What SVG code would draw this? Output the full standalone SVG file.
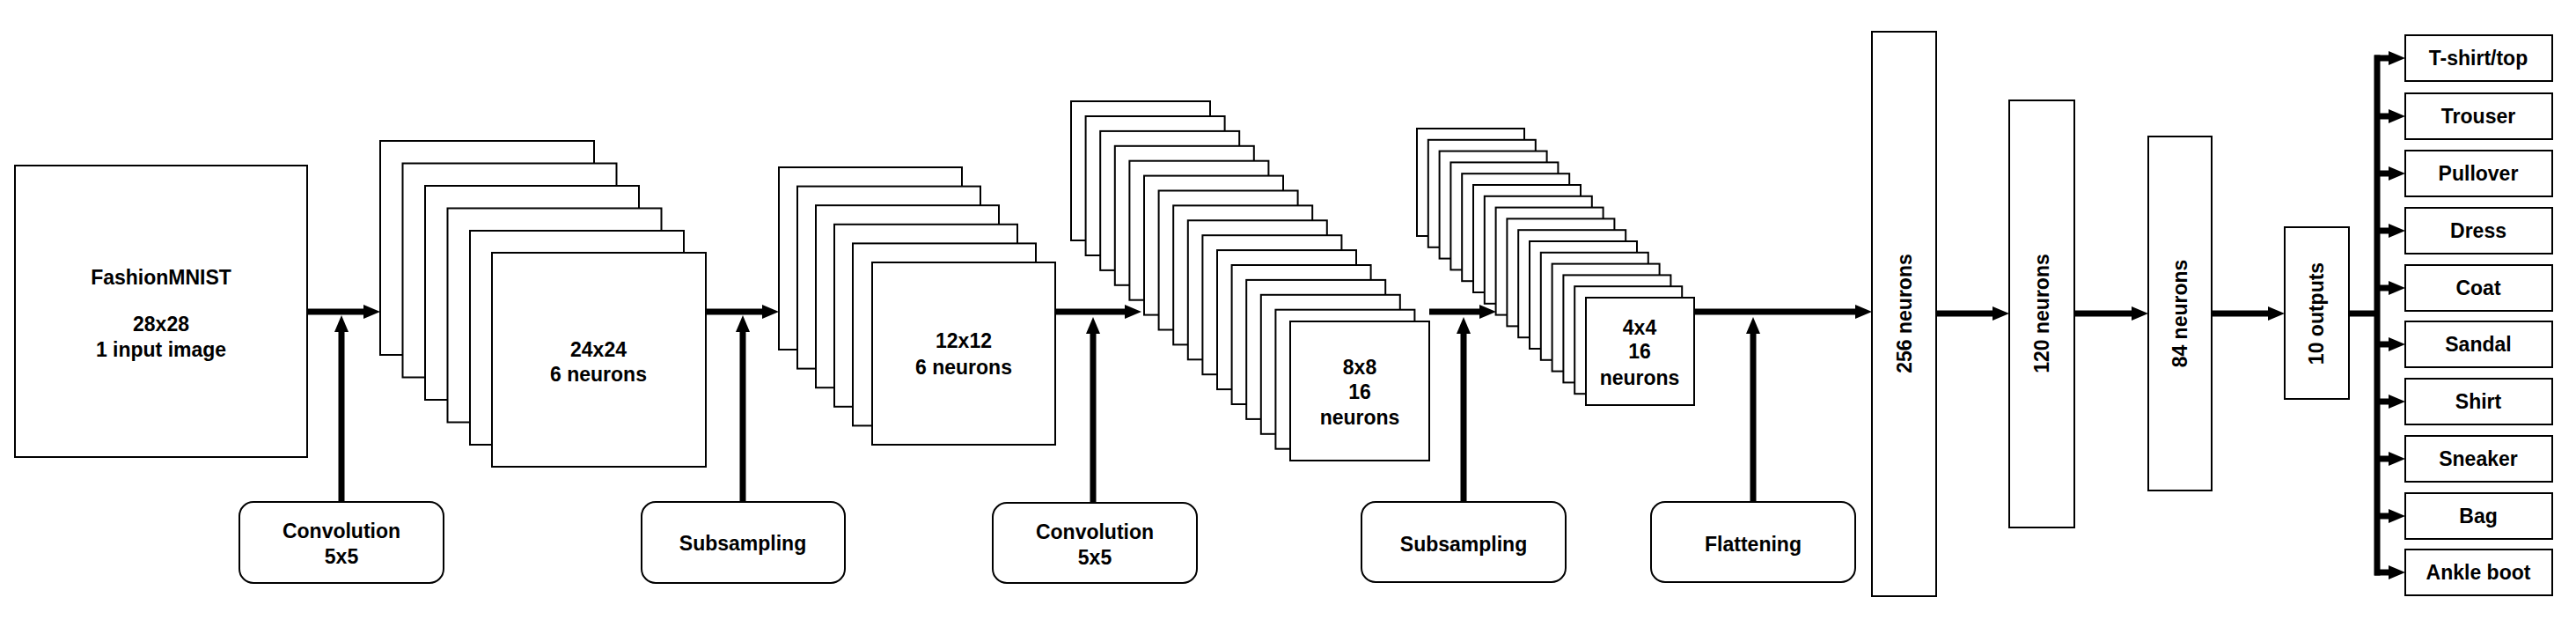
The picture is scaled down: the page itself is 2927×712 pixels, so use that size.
<svg xmlns="http://www.w3.org/2000/svg" width="2927" height="712" viewBox="0 0 2927 712">
<style>
.b{fill:#fff;stroke:#000;stroke-width:2}
.t{font-family:"Liberation Sans",Arial,sans-serif;font-weight:bold;font-size:23px;text-anchor:middle;dominant-baseline:central;fill:#000}
.c{fill:none;stroke:#000;stroke-width:7}
</style>
<defs>
<marker id="ah" markerUnits="userSpaceOnUse" markerWidth="19" markerHeight="16" refX="0" refY="8" orient="auto" viewBox="0 0 19 16"><path d="M0,0 L19,8 L0,16 z" fill="#000"/></marker>
</defs>
<g id="input"><rect class="b" x="17" y="188" width="332" height="331"/>
<text class="t" x="183" y="315">FashionMNIST</text><text class="t" x="183" y="368">28x28</text><text class="t" x="183" y="397">1 input image</text></g>
<g id="c1">
<rect class="b" x="432" y="160" width="243" height="243"/><rect class="b" x="457.5" y="185.5" width="243" height="243"/><rect class="b" x="483" y="211" width="243" height="243"/><rect class="b" x="508.5" y="236.5" width="243" height="243"/><rect class="b" x="534" y="262" width="243" height="243"/><rect class="b" x="559" y="287" width="243" height="243"/>
<text class="t" x="680" y="397">24x24</text><text class="t" x="680" y="425">6 neurons</text></g>
<g id="s1">
<rect class="b" x="885" y="190" width="208" height="207"/><rect class="b" x="906" y="211.6" width="208" height="207"/><rect class="b" x="927" y="233.2" width="208" height="207"/><rect class="b" x="948" y="254.8" width="208" height="207"/><rect class="b" x="969" y="276.4" width="208" height="207"/><rect class="b" x="991" y="298" width="208" height="207"/>
<text class="t" x="1095" y="387">12x12</text><text class="t" x="1095" y="417">6 neurons</text></g>
<g id="c2">
<rect class="b" x="1217" y="115" width="158" height="158"/><rect class="b" x="1233.6" y="132" width="158" height="158"/><rect class="b" x="1250.2" y="148.9" width="158" height="158"/><rect class="b" x="1266.8" y="165.8" width="158" height="158"/><rect class="b" x="1283.4" y="182.7" width="158" height="158"/><rect class="b" x="1300" y="199.6" width="158" height="158"/><rect class="b" x="1316.6" y="216.5" width="158" height="158"/><rect class="b" x="1333.2" y="233.4" width="158" height="158"/><rect class="b" x="1349.8" y="250.3" width="158" height="158"/><rect class="b" x="1366.4" y="267.2" width="158" height="158"/><rect class="b" x="1383" y="284.1" width="158" height="158"/><rect class="b" x="1399.6" y="301" width="158" height="158"/><rect class="b" x="1416.2" y="317.9" width="158" height="158"/><rect class="b" x="1432.8" y="334.8" width="158" height="158"/><rect class="b" x="1449.4" y="351.7" width="158" height="158"/><rect class="b" x="1466" y="365" width="158" height="158"/>
<text class="t" x="1545" y="417">8x8</text><text class="t" x="1545" y="445">16</text><text class="t" x="1545" y="474">neurons</text></g>
<g id="s2">
<rect class="b" x="1610" y="146" width="122" height="122"/><rect class="b" x="1622.8" y="158.8" width="122" height="122"/><rect class="b" x="1635.6" y="171.6" width="122" height="122"/><rect class="b" x="1648.4" y="184.4" width="122" height="122"/><rect class="b" x="1661.2" y="197.2" width="122" height="122"/><rect class="b" x="1674" y="210" width="122" height="122"/><rect class="b" x="1686.8" y="222.8" width="122" height="122"/><rect class="b" x="1699.6" y="235.6" width="122" height="122"/><rect class="b" x="1712.4" y="248.4" width="122" height="122"/><rect class="b" x="1725.2" y="261.2" width="122" height="122"/><rect class="b" x="1738" y="274" width="122" height="122"/><rect class="b" x="1750.8" y="286.8" width="122" height="122"/><rect class="b" x="1763.6" y="299.6" width="122" height="122"/><rect class="b" x="1776.4" y="312.4" width="122" height="122"/><rect class="b" x="1789.2" y="325.2" width="122" height="122"/><rect class="b" x="1802" y="338" width="123" height="122"/>
<text class="t" x="1863" y="372">4x4</text><text class="t" x="1863" y="399">16</text><text class="t" x="1863" y="429">neurons</text></g>
<g id="op1"><rect class="b" x="272" y="570" width="232" height="92" rx="16"/><text class="t" x="388" y="603">Convolution</text><text class="t" x="388" y="632">5x5</text></g>
<g id="op2"><rect class="b" x="729" y="570" width="231" height="92" rx="16"/><text class="t" x="844" y="617">Subsampling</text></g>
<g id="op3"><rect class="b" x="1128" y="571" width="232" height="91" rx="16"/><text class="t" x="1244" y="604">Convolution</text><text class="t" x="1244" y="633">5x5</text></g>
<g id="op4"><rect class="b" x="1547" y="570" width="232" height="91" rx="16"/><text class="t" x="1663" y="618">Subsampling</text></g>
<g id="op5"><rect class="b" x="1876" y="570" width="232" height="91" rx="16"/><text class="t" x="1992" y="618">Flattening</text></g>
<g id="fc256"><rect class="b" x="2127" y="36" width="73" height="641"/><text class="t" transform="translate(2164,356) rotate(-90)">256 neurons</text></g>
<g id="fc120"><rect class="b" x="2283" y="114" width="74" height="485"/><text class="t" transform="translate(2320,356) rotate(-90)">120 neurons</text></g>
<g id="fc84"><rect class="b" x="2441" y="155" width="72" height="402"/><text class="t" transform="translate(2477,356) rotate(-90)">84 neurons</text></g>
<g id="out"><rect class="b" x="2596" y="258" width="73" height="195"/><text class="t" transform="translate(2632,356) rotate(-90)">10 outputs</text></g>
<g id="classes">
<g id="k0"><rect class="b" x="2733" y="40" width="167" height="52"/><text class="t" x="2816" y="66">T-shirt/top</text></g>
<g id="k1"><rect class="b" x="2733" y="106" width="167" height="52"/><text class="t" x="2816" y="132">Trouser</text></g>
<g id="k2"><rect class="b" x="2733" y="171" width="167" height="52"/><text class="t" x="2816" y="197">Pullover</text></g>
<g id="k3"><rect class="b" x="2733" y="236" width="167" height="52"/><text class="t" x="2816" y="262">Dress</text></g>
<g id="k4"><rect class="b" x="2733" y="301" width="167" height="52"/><text class="t" x="2816" y="327">Coat</text></g>
<g id="k5"><rect class="b" x="2733" y="365" width="167" height="52"/><text class="t" x="2816" y="391">Sandal</text></g>
<g id="k6"><rect class="b" x="2733" y="430" width="167" height="52"/><text class="t" x="2816" y="456">Shirt</text></g>
<g id="k7"><rect class="b" x="2733" y="495" width="167" height="52"/><text class="t" x="2816" y="521">Sneaker</text></g>
<g id="k8"><rect class="b" x="2733" y="560" width="167" height="52"/><text class="t" x="2816" y="586">Bag</text></g>
<g id="k9"><rect class="b" x="2733" y="624" width="167" height="52"/><text class="t" x="2816" y="650">Ankle boot</text></g>
</g>
<g id="connectors" class="c">
<path d="M349,354 H413" marker-end="url(#ah)"/>
<path d="M802,354 H866" marker-end="url(#ah)"/>
<path d="M1200,354 H1278" marker-end="url(#ah)"/>
<path d="M1624,354 H1681" marker-end="url(#ah)"/>
<path d="M1925,354 H2108" marker-end="url(#ah)"/>
<path d="M2200,356 H2264" marker-end="url(#ah)"/>
<path d="M2357,356 H2422" marker-end="url(#ah)"/>
<path d="M2513,356 H2577" marker-end="url(#ah)"/>
<path d="M388,570 V377" marker-end="url(#ah)"/>
<path d="M844,570 V377" marker-end="url(#ah)"/>
<path d="M1242,571 V379" marker-end="url(#ah)"/>
<path d="M1663,571 V379" marker-end="url(#ah)"/>
<path d="M1992,571 V379" marker-end="url(#ah)"/>
<path d="M2669,356 H2701"/>
<path d="M2701,62.5 V653.5"/>
<path d="M2698,66 H2714" marker-end="url(#ah)"/>
<path d="M2698,132 H2714" marker-end="url(#ah)"/>
<path d="M2698,197 H2714" marker-end="url(#ah)"/>
<path d="M2698,262 H2714" marker-end="url(#ah)"/>
<path d="M2698,327 H2714" marker-end="url(#ah)"/>
<path d="M2698,391 H2714" marker-end="url(#ah)"/>
<path d="M2698,456 H2714" marker-end="url(#ah)"/>
<path d="M2698,521 H2714" marker-end="url(#ah)"/>
<path d="M2698,586 H2714" marker-end="url(#ah)"/>
<path d="M2698,650 H2714" marker-end="url(#ah)"/>
</g>
</svg>
